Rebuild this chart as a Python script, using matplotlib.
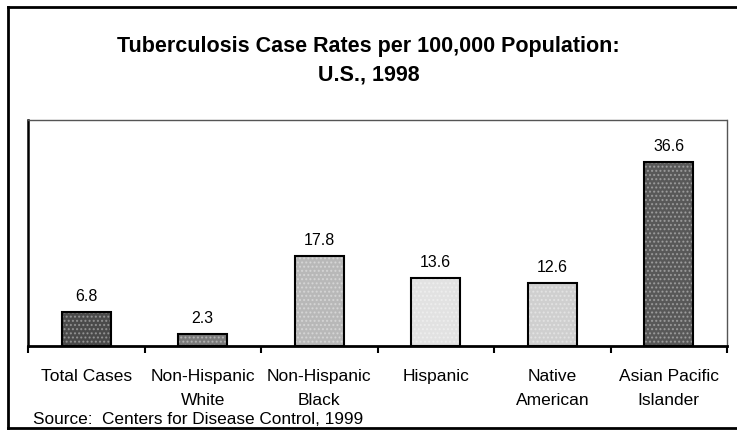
import numpy as np
import matplotlib.pyplot as plt
from matplotlib.lines import Line2D

# TB case rates by group, per 100,000 population
groups = ["Total Cases", "Non-Hispanic\nWhite", "Non-Hispanic\nBlack",
          "Hispanic", "Native\nAmerican", "Asian Pacific\nIslander"]
rates = [6.8, 2.3, 17.8, 13.6, 12.6, 36.6]
fills = ["#4a4a4a", "#7a7a7a", "#b8b8b8", "#e2e2e2", "#cfcfcf", "#585858"]

plt.rcParams['font.family'] = ['Liberation Sans', 'DejaVu Sans']

fig = plt.figure(figsize=(7.37, 4.31), dpi=100)
ax = fig.add_axes([0.038, 0.195, 0.9485, 0.525])

x = np.arange(len(groups))
bars = ax.bar(x, rates, width=0.42, color=fills, edgecolor="black",
              linewidth=1.5, hatch="....", zorder=2)
for b in bars:
    b._hatch_color = (1, 1, 1, 0.35)

for xi, v in zip(x, rates):
    ax.text(xi, v + 1.8, f"{v:.1f}", ha="center", va="bottom", fontsize=11.5)

ax.set_xlim(-0.5, len(groups) - 0.5)
ax.set_ylim(0, 45)
ax.set_yticks([])
ax.set_xticks(np.arange(len(groups) + 1) - 0.5, minor=True)
ax.set_xticks(x)
ax.set_xticklabels(groups, fontsize=12.5, linespacing=1.75)
ax.tick_params(axis="x", which="major", length=0, pad=16)
ax.tick_params(axis="x", which="minor", length=5, width=1.5, direction="out")

ax.spines["left"].set_linewidth(1.8)
ax.spines["bottom"].set_linewidth(2)
for side in ("top", "right"):
    ax.spines[side].set_linestyle((0, (1, 1)))
    ax.spines[side].set_color("#555555")
    ax.spines[side].set_linewidth(1)

fig.text(0.5, 0.893, "Tuberculosis Case Rates per 100,000 Population:",
         ha="center", va="center", fontsize=15.5, fontweight="bold")
fig.text(0.5, 0.826, "U.S., 1998", ha="center", va="center",
         fontsize=15.5, fontweight="bold")
fig.text(0.045, 0.016, "Source:  Centers for Disease Control, 1999",
         ha="left", va="baseline", fontsize=12.4)

# outer frame
fig.add_artist(Line2D([0.011, 0.011], [0.004, 0.982], color="black", lw=2))
fig.add_artist(Line2D([0.011, 1.0], [0.982, 0.982], color="black", lw=2))
fig.add_artist(Line2D([0.011, 1.0], [0.005, 0.005], color="black", lw=2,
                      zorder=5))

fig.savefig("out.png", dpi=100)
